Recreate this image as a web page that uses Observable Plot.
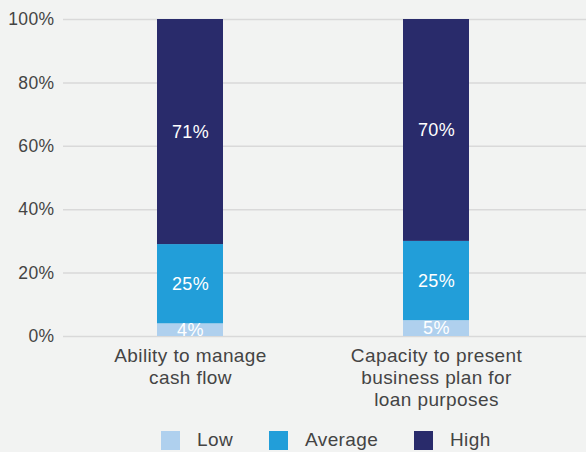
<!DOCTYPE html>
<html>
<head>
<meta charset="utf-8">
<script src="https://cdn.jsdelivr.net/npm/d3@7"></script>
<script src="https://cdn.jsdelivr.net/npm/@observablehq/plot@0.6"></script>
<style>
  body { margin: 0; background: #f2f3f2; font-family: "Liberation Sans", Arial, sans-serif; }
  #chart { position: relative; width: 586px; height: 452px; }
  #chart svg text { letter-spacing: 0.4px; }
  .legend { position: absolute; left: 0; top: 430px; width: 586px; height: 20px; font-size: 19px; color: #444; letter-spacing: 0.4px; }
  .legend .item { position: absolute; top: 0; height: 20px; display: flex; align-items: center; }
  .legend .swatch { width: 19px; height: 19px; margin-right: 17px; }
</style>
</head>
<body>
<div id="chart"></div>
<script>
// Skills and the share of respondents rating them low / average / high
const categories = ["Ability to manage cash flow", "Capacity to present business plan for loan purposes"];
const tickLabels = ["Ability to manage\ncash flow", "Capacity to present\nbusiness plan for\nloan purposes"];
const series = ["Low", "Average", "High"];
const low = [4, 5];
const average = [25, 25];
const high = [71, 70];
const colors = ["#afd0ee", "#229ed9", "#292b6b"];
const yTicks = [0, 20, 40, 60, 80, 100];

const values = [low, average, high];
const rows = [];
series.forEach((s, si) => {
  categories.forEach((c, ci) => rows.push({category: c, level: s, value: values[si][ci]}));
});

const chart = Plot.plot({
  width: 586,
  height: 420,
  marginTop: 19,
  marginBottom: 84,
  marginLeft: 63,
  marginRight: 0,
  style: {background: "transparent", fontFamily: "Liberation Sans, Arial, sans-serif", color: "#444"},
  x: {domain: categories, range: [63, 563], paddingInner: 0.732, paddingOuter: 0.382, label: null},
  y: {domain: [0, 100], label: null},
  color: {domain: series, range: colors},
  marks: [
    Plot.ruleY(yTicks, {stroke: "#d9d9d9", strokeWidth: 1.5}),
    Plot.barY(rows, {x: "category", y: "value", fill: "level", order: series}),
    Plot.text(rows, Plot.stackY({x: "category", y: "value", z: "level", order: series,
      text: d => d.value + "%", fill: "white", fontSize: 18})),
    Plot.axisY({ticks: yTicks, tickFormat: d => d + "%", tickSize: 0,
      tickPadding: 9, fontSize: 17.5, label: null}),
    Plot.axisX({tickFormat: d => tickLabels[categories.indexOf(d)], tickSize: 0, tickPadding: 10,
      fontSize: 19, lineHeight: 1.15, label: null})
  ]
});
document.getElementById("chart").appendChild(chart);

// Legend below the plot
const legendX = [161, 269, 414];
const legend = document.createElement("div");
legend.className = "legend";
series.forEach((s, i) => {
  const item = document.createElement("div");
  item.className = "item";
  item.style.left = legendX[i] + "px";
  const sw = document.createElement("span");
  sw.className = "swatch";
  sw.style.background = colors[i];
  const lab = document.createElement("span");
  lab.textContent = s;
  item.append(sw, lab);
  legend.appendChild(item);
});
document.getElementById("chart").appendChild(legend);
</script>
</body>
</html>
